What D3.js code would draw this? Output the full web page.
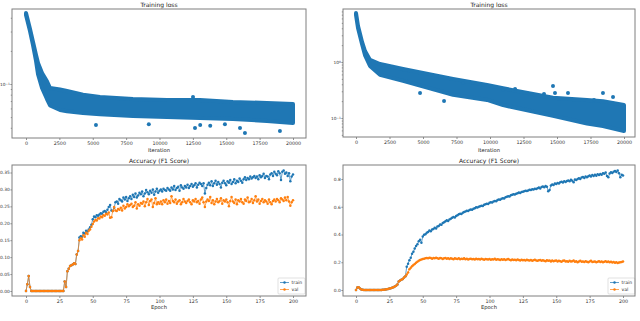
<!DOCTYPE html>
<html>
<head>
<meta charset="utf-8">
<script src="https://cdn.jsdelivr.net/npm/d3@7"></script>
<style>
  html, body { margin: 0; padding: 0; background: #fff; }
  svg { display: block; font-family: "DejaVu Sans", sans-serif; }
</style>
</head>
<body>
<svg id="chart" width="640" height="321"></svg>
<script>
// DATA
// training loss scatter, read as a band: [iteration, upper loss, lower loss]
const lossBandLeft = [
  [0, 0.442, 0.424], [300, 0.316, 0.303], [525, 0.241, 0.226], [750, 0.184, 0.162],
  [900, 0.155, 0.123], [1200, 0.126, 0.092], [1570, 0.106, 0.073], [1800, 0.092, 0.064],
  [2550, 0.089, 0.058], [3070, 0.0864, 0.0565], [4270, 0.080, 0.0545], [5540, 0.0762, 0.053],
  [8010, 0.0731, 0.0512], [10560, 0.0716, 0.050], [13030, 0.0716, 0.0491], [15500, 0.0686, 0.0481],
  [18050, 0.0672, 0.0461], [20000, 0.0658, 0.0442]
];
// isolated points outside the band: [iteration, loss]
const lossOutliersLeft = [
  [5240, 0.0424], [12510, 0.0762], [16400, 0.0358], [16030, 0.0398], [19020, 0.0374],
  [12660, 0.0398], [9200, 0.0430], [13050, 0.0425], [13800, 0.0418], [14900, 0.0430]
];
const lossBandRight = [
  [0, 7.5, 6.9], [150, 4.39, 4.05], [450, 2.28, 2.10], [670, 1.57, 1.33],
  [1045, 1.09, 0.85], [1790, 0.92, 0.59], [3510, 0.75, 0.46], [7240, 0.50, 0.26],
  [9780, 0.39, 0.21], [10970, 0.34, 0.17], [14700, 0.23, 0.11], [17240, 0.21, 0.08],
  [18430, 0.20, 0.072], [20000, 0.171, 0.0586]
];
const lossOutliersRight = [
  [7985, 0.422], [8730, 0.422], [10970, 0.316], [11870, 0.330], [6570, 0.201],
  [14700, 0.373], [14850, 0.279], [15820, 0.279], [14030, 0.268], [18430, 0.279],
  [17760, 0.210], [19180, 0.237], [4780, 0.279]
];

const iterTicks = [0, 2500, 5000, 7500, 10000, 12500, 15000, 17500, 20000];
const epochTicks = [0, 25, 50, 75, 100, 125, 150, 175, 200];
const accTicksLeft = [0, 0.05, 0.10, 0.15, 0.20, 0.25, 0.30, 0.35];
const accTicksRight = [0, 0.2, 0.4, 0.6, 0.8];
const seriesNames = ["train", "val"];

// F1 score per epoch (0..200)
const trainLeft = [
  0, 0.020, 0.044, 0.012, 0, 0, 0, 0, 0, 0,
  0, 0, 0, 0, 0, 0, 0, 0, 0, 0,
  0, 0, 0, 0, 0, 0, 0, 0, 0, 0.028,
  0.012, 0.058, 0.066, 0.074, 0.076, 0.078, 0.082, 0.080, 0.108, 0.118,
  0.158, 0.162, 0.160, 0.172, 0.170, 0.178, 0.176, 0.182, 0.188, 0.196,
  0.212, 0.220, 0.218, 0.224, 0.222, 0.226, 0.230, 0.228, 0.234, 0.236,
  0.232, 0.240, 0.248, 0.254, 0.238, 0.236, 0.246, 0.262, 0.264, 0.258,
  0.272, 0.268, 0.264, 0.276, 0.270, 0.278, 0.266, 0.274, 0.280, 0.272,
  0.284, 0.278, 0.288, 0.276, 0.282, 0.290, 0.286, 0.294, 0.280, 0.288,
  0.298, 0.292, 0.286, 0.296, 0.290, 0.300, 0.284, 0.294, 0.302, 0.290,
  0.296, 0.300, 0.294, 0.302, 0.298, 0.296, 0.304, 0.300, 0.296, 0.306,
  0.300, 0.310, 0.298, 0.304, 0.308, 0.296, 0.312, 0.306, 0.302, 0.310,
  0.306, 0.314, 0.304, 0.310, 0.316, 0.308, 0.312, 0.318, 0.306, 0.314,
  0.320, 0.316, 0.310, 0.318, 0.288, 0.304, 0.314, 0.320, 0.312, 0.324,
  0.310, 0.318, 0.326, 0.314, 0.322, 0.316, 0.306, 0.320, 0.326, 0.318,
  0.312, 0.324, 0.320, 0.328, 0.316, 0.322, 0.330, 0.318, 0.326, 0.322,
  0.332, 0.326, 0.320, 0.330, 0.336, 0.328, 0.334, 0.330, 0.338, 0.332,
  0.336, 0.340, 0.334, 0.338, 0.330, 0.342, 0.336, 0.340, 0.346, 0.334,
  0.340, 0.338, 0.330, 0.344, 0.348, 0.340, 0.352, 0.346, 0.342, 0.354,
  0.348, 0.328, 0.352, 0.356, 0.346, 0.350, 0.340, 0.348, 0.324, 0.338,
  0.344
];
const valLeft = [
  0, 0.020, 0.044, 0.012, 0, 0, 0, 0, 0, 0,
  0, 0, 0, 0, 0, 0, 0, 0, 0, 0,
  0, 0, 0, 0, 0, 0, 0, 0, 0, 0.028,
  0.012, 0.058, 0.066, 0.074, 0.076, 0.078, 0.082, 0.080, 0.108, 0.118,
  0.150, 0.156, 0.152, 0.165, 0.160, 0.172, 0.168, 0.178, 0.182, 0.190,
  0.198, 0.205, 0.210, 0.208, 0.215, 0.214, 0.220, 0.218, 0.224, 0.222,
  0.228, 0.226, 0.232, 0.216, 0.218, 0.236, 0.248, 0.238, 0.236, 0.242,
  0.240, 0.246, 0.238, 0.252, 0.244, 0.248, 0.256, 0.250, 0.254, 0.258,
  0.248, 0.252, 0.262, 0.244, 0.256, 0.252, 0.260, 0.258, 0.264, 0.250,
  0.262, 0.272, 0.254, 0.266, 0.270, 0.248, 0.260, 0.274, 0.256, 0.262,
  0.258, 0.264, 0.256, 0.268, 0.262, 0.270, 0.258, 0.266, 0.260, 0.280,
  0.266, 0.262, 0.270, 0.258, 0.264, 0.268, 0.256, 0.262, 0.272, 0.264,
  0.260, 0.266, 0.270, 0.262, 0.256, 0.268, 0.264, 0.272, 0.262, 0.266,
  0.258, 0.270, 0.276, 0.262, 0.248, 0.264, 0.270, 0.266, 0.278, 0.260,
  0.268, 0.256, 0.264, 0.272, 0.262, 0.266, 0.274, 0.258, 0.268, 0.264,
  0.270, 0.262, 0.250, 0.266, 0.278, 0.264, 0.260, 0.270, 0.256, 0.268,
  0.264, 0.272, 0.262, 0.258, 0.270, 0.266, 0.276, 0.262, 0.264, 0.272,
  0.260, 0.268, 0.280, 0.264, 0.270, 0.258, 0.266, 0.272, 0.262, 0.268,
  0.264, 0.258, 0.270, 0.262, 0.256, 0.266, 0.270, 0.264, 0.272, 0.268,
  0.262, 0.274, 0.270, 0.266, 0.276, 0.268, 0.278, 0.264, 0.252, 0.262,
  0.268
];
const trainRight = [
  0, 0.018, 0.020, 0.010, 0.004, 0.002, 0, 0, 0, 0,
  0, 0, 0, 0, 0, 0, 0, 0, 0, 0,
  0.002, 0.002, 0.004, 0.006, 0.008, 0.010, 0.012, 0.016, 0.020, 0.026,
  0.030, 0.040, 0.062, 0.068, 0.074, 0.080, 0.090, 0.100, 0.168, 0.190,
  0.215, 0.232, 0.262, 0.275, 0.300, 0.318, 0.330, 0.352, 0.362, 0.340,
  0.385, 0.398, 0.402, 0.412, 0.418, 0.428, 0.424, 0.436, 0.440, 0.448,
  0.444, 0.458, 0.462, 0.472, 0.470, 0.482, 0.488, 0.496, 0.502, 0.498,
  0.508, 0.514, 0.520, 0.526, 0.522, 0.534, 0.538, 0.546, 0.550, 0.548,
  0.556, 0.562, 0.566, 0.572, 0.570, 0.576, 0.580, 0.578, 0.586, 0.590,
  0.596, 0.594, 0.600, 0.604, 0.608, 0.606, 0.614, 0.618, 0.622, 0.620,
  0.628, 0.632, 0.630, 0.638, 0.642, 0.640, 0.648, 0.652, 0.650, 0.658,
  0.662, 0.660, 0.668, 0.672, 0.676, 0.674, 0.682, 0.686, 0.690, 0.688,
  0.694, 0.698, 0.702, 0.700, 0.706, 0.708, 0.712, 0.716, 0.714, 0.718,
  0.722, 0.720, 0.726, 0.724, 0.730, 0.728, 0.734, 0.738, 0.732, 0.742,
  0.746, 0.740, 0.750, 0.744, 0.712, 0.720, 0.754, 0.760, 0.756, 0.768,
  0.764, 0.772, 0.768, 0.776, 0.780, 0.774, 0.784, 0.778, 0.786, 0.790,
  0.784, 0.794, 0.788, 0.776, 0.796, 0.792, 0.800, 0.806, 0.800, 0.810,
  0.814, 0.808, 0.818, 0.812, 0.820, 0.826, 0.818, 0.828, 0.822, 0.830,
  0.824, 0.834, 0.828, 0.836, 0.830, 0.842, 0.838, 0.846, 0.822, 0.812,
  0.840, 0.848, 0.844, 0.852, 0.858, 0.850, 0.862, 0.842, 0.812, 0.830,
  0.826
];
const valRight = [
  0, 0.018, 0.020, 0.010, 0.004, 0.002, 0, 0, 0, 0,
  0, 0, 0, 0, 0, 0, 0, 0, 0, 0,
  0.002, 0.002, 0.004, 0.006, 0.008, 0.010, 0.012, 0.016, 0.020, 0.026,
  0.030, 0.040, 0.062, 0.068, 0.074, 0.080, 0.090, 0.100, 0.112, 0.126,
  0.150, 0.160, 0.172, 0.180, 0.188, 0.196, 0.204, 0.210, 0.216, 0.220,
  0.224, 0.226, 0.228, 0.230, 0.228, 0.232, 0.230, 0.226, 0.230, 0.228,
  0.232, 0.228, 0.226, 0.230, 0.228, 0.224, 0.228, 0.230, 0.226, 0.228,
  0.224, 0.228, 0.226, 0.222, 0.228, 0.226, 0.224, 0.228, 0.222, 0.226,
  0.224, 0.228, 0.222, 0.226, 0.220, 0.224, 0.226, 0.222, 0.224, 0.220,
  0.226, 0.222, 0.224, 0.220, 0.226, 0.222, 0.218, 0.224, 0.222, 0.220,
  0.224, 0.218, 0.222, 0.220, 0.226, 0.218, 0.222, 0.220, 0.216, 0.222,
  0.218, 0.222, 0.216, 0.220, 0.224, 0.218, 0.214, 0.220, 0.216, 0.218,
  0.214, 0.220, 0.216, 0.212, 0.218, 0.214, 0.216, 0.212, 0.218, 0.214,
  0.212, 0.216, 0.210, 0.214, 0.218, 0.212, 0.210, 0.214, 0.216, 0.210,
  0.214, 0.210, 0.208, 0.214, 0.210, 0.212, 0.206, 0.212, 0.208, 0.210,
  0.212, 0.206, 0.210, 0.208, 0.204, 0.210, 0.212, 0.206, 0.208, 0.204,
  0.210, 0.206, 0.208, 0.212, 0.204, 0.208, 0.200, 0.206, 0.210, 0.204,
  0.206, 0.202, 0.208, 0.204, 0.200, 0.206, 0.210, 0.202, 0.204, 0.206,
  0.200, 0.204, 0.208, 0.202, 0.206, 0.200, 0.204, 0.208, 0.202, 0.206,
  0.200, 0.204, 0.198, 0.202, 0.196, 0.200, 0.194, 0.198, 0.200, 0.202,
  0.206
];

const blue = "#1f77b4";
const orange = "#ff7f0e";
const svg = d3.select("#chart");

// axes frame + title + x label
function frame(box, title, xLabel, titleY, labelY) {
  svg.append("rect")
    .attr("x", box.x0).attr("y", box.y0)
    .attr("width", box.x1 - box.x0).attr("height", box.y1 - box.y0)
    .attr("fill", "none").attr("stroke", "#7f7f7f").attr("stroke-width", 1);
  const cx = (box.x0 + box.x1) / 2;
  svg.append("text").attr("x", cx).attr("y", titleY)
    .attr("text-anchor", "middle").attr("font-size", 6).attr("fill", "#222")
    .text(title);
  svg.append("text").attr("x", cx).attr("y", labelY)
    .attr("text-anchor", "middle").attr("font-size", 5.2).attr("fill", "#222")
    .text(xLabel);
}

function styleAxis(g, size) {
  g.select(".domain").remove();
  g.selectAll(".tick line").attr("stroke", "#444").attr("stroke-width", 0.6);
  g.selectAll(".tick text").attr("font-size", size || 4.8).attr("fill", "#333")
    .attr("font-family", "DejaVu Sans, sans-serif");
}

function xAxis(x, y0, ticks, pad) {
  svg.append("g").attr("transform", `translate(0,${y0})`)
    .call(d3.axisBottom(x).tickValues(ticks).tickSize(2).tickPadding(pad).tickFormat(d3.format("d")))
    .call(styleAxis);
}

function lossPanel(box, xRange, yDomain, band, outliers) {
  const x = d3.scaleLinear().domain([0, 20000]).range(xRange);
  const y = d3.scaleLog().domain(yDomain).range([box.y1, box.y0]);

  const area = d3.area()
    .x(d => x(d[0]))
    .y0(d => y(d[2]))
    .y1(d => y(d[1]));
  svg.append("path").datum(band)
    .attr("d", area)
    .attr("fill", blue).attr("stroke", blue)
    .attr("stroke-width", 4).attr("stroke-linejoin", "round");

  svg.append("g").selectAll("circle").data(outliers).join("circle")
    .attr("cx", d => x(d[0])).attr("cy", d => y(d[1])).attr("r", 2)
    .attr("fill", blue);

  xAxis(x, box.y1, iterTicks, 2);

  // log y axis: decades labelled, minor ticks unlabelled
  const [lo, hi] = yDomain;
  const major = [], minor = [];
  for (let e = Math.floor(Math.log10(lo)); e <= Math.ceil(Math.log10(hi)); e++) {
    for (let m = 1; m < 10; m++) {
      const v = m * Math.pow(10, e);
      if (v < lo || v > hi) continue;
      (m === 1 ? major : minor).push(v);
    }
  }
  svg.append("g").attr("transform", `translate(${box.x0},0)`)
    .call(d3.axisLeft(y).tickValues(minor).tickSize(1.2).tickFormat(""))
    .call(styleAxis);
  const gm = svg.append("g").attr("transform", `translate(${box.x0},0)`)
    .call(d3.axisLeft(y).tickValues(major).tickSize(1.6).tickPadding(0.6))
    .call(styleAxis, 4.3);
  gm.selectAll(".tick text").each(function(d) {
    const e = Math.round(Math.log10(d));
    const t = d3.select(this).text("10");
    t.append("tspan").attr("dy", "-0.45em").attr("font-size", 3.0)
      .text(e < 0 ? "\u2212" + (-e) : String(e));
  });
}

function accPanel(box, xRange, yDomain, yRange, yTicks, yFmt, train, val, legendBox) {
  const x = d3.scaleLinear().domain([0, 200]).range(xRange);
  const y = d3.scaleLinear().domain(yDomain).range(yRange);
  const line = d3.line().x((d, i) => x(i)).y(d => y(d));

  [[train, blue], [val, orange]].forEach(([s, c]) => {
    svg.append("path").datum(s).attr("d", line)
      .attr("fill", "none").attr("stroke", c).attr("stroke-width", 0.7);
    svg.append("g").selectAll("circle").data(s).join("circle")
      .attr("cx", (d, i) => x(i)).attr("cy", d => y(d)).attr("r", 1.25)
      .attr("fill", c);
  });

  xAxis(x, box.y1, epochTicks, 1.2);
  svg.append("g").attr("transform", `translate(${box.x0},0)`)
    .call(d3.axisLeft(y).tickValues(yTicks).tickSize(1.6).tickPadding(0.6).tickFormat(d3.format(yFmt)))
    .call(styleAxis, 4.4);

  // legend
  const lg = svg.append("g").attr("transform", `translate(${legendBox[0]},${legendBox[1]})`);
  lg.append("rect").attr("width", legendBox[2]).attr("height", legendBox[3])
    .attr("rx", 1).attr("fill", "#fff").attr("fill-opacity", 0.85)
    .attr("stroke", "#ccc").attr("stroke-width", 0.6);
  seriesNames.forEach((name, i) => {
    const c = i === 0 ? blue : orange;
    const yy = 4.5 + i * 7;
    lg.append("line").attr("x1", 2).attr("x2", 11).attr("y1", yy).attr("y2", yy)
      .attr("stroke", c).attr("stroke-width", 0.7);
    lg.append("circle").attr("cx", 6.5).attr("cy", yy).attr("r", 1.25).attr("fill", c);
    lg.append("text").attr("x", 13.5).attr("y", yy).attr("dy", "0.35em")
      .attr("font-size", 4.6).attr("fill", "#333").text(name);
  });
}

// top row: training loss
const tl = { x0: 12, x1: 306, y0: 9, y1: 138 };
const tr = { x0: 343, x1: 635, y0: 9, y1: 137 };
lossPanel(tl, [26, 293], [0.0323, 0.4807], lossBandLeft, lossOutliersLeft);
lossPanel(tr, [356, 624], [0.0458, 8.84], lossBandRight, lossOutliersRight);
frame(tl, "Training loss", "Iteration", 7, 152);
frame(tr, "Training loss", "Iteration", 7, 152);

// bottom row: accuracy
const bl = { x0: 12, x1: 306, y0: 165, y1: 296 };
const br = { x0: 343, x1: 635, y0: 165, y1: 296 };
accPanel(bl, [26, 293], [0, 0.35], [291, 172.5], accTicksLeft, ".2f", trainLeft, valLeft, [278, 278, 27, 16]);
accPanel(br, [356, 623], [0, 0.8], [290, 179], accTicksRight, ".1f", trainRight, valRight, [608, 278, 27, 16]);
frame(bl, "Accuracy (F1 Score)", "Epoch", 163, 309);
frame(br, "Accuracy (F1 Score)", "Epoch", 163, 309);
</script>
</body>
</html>
